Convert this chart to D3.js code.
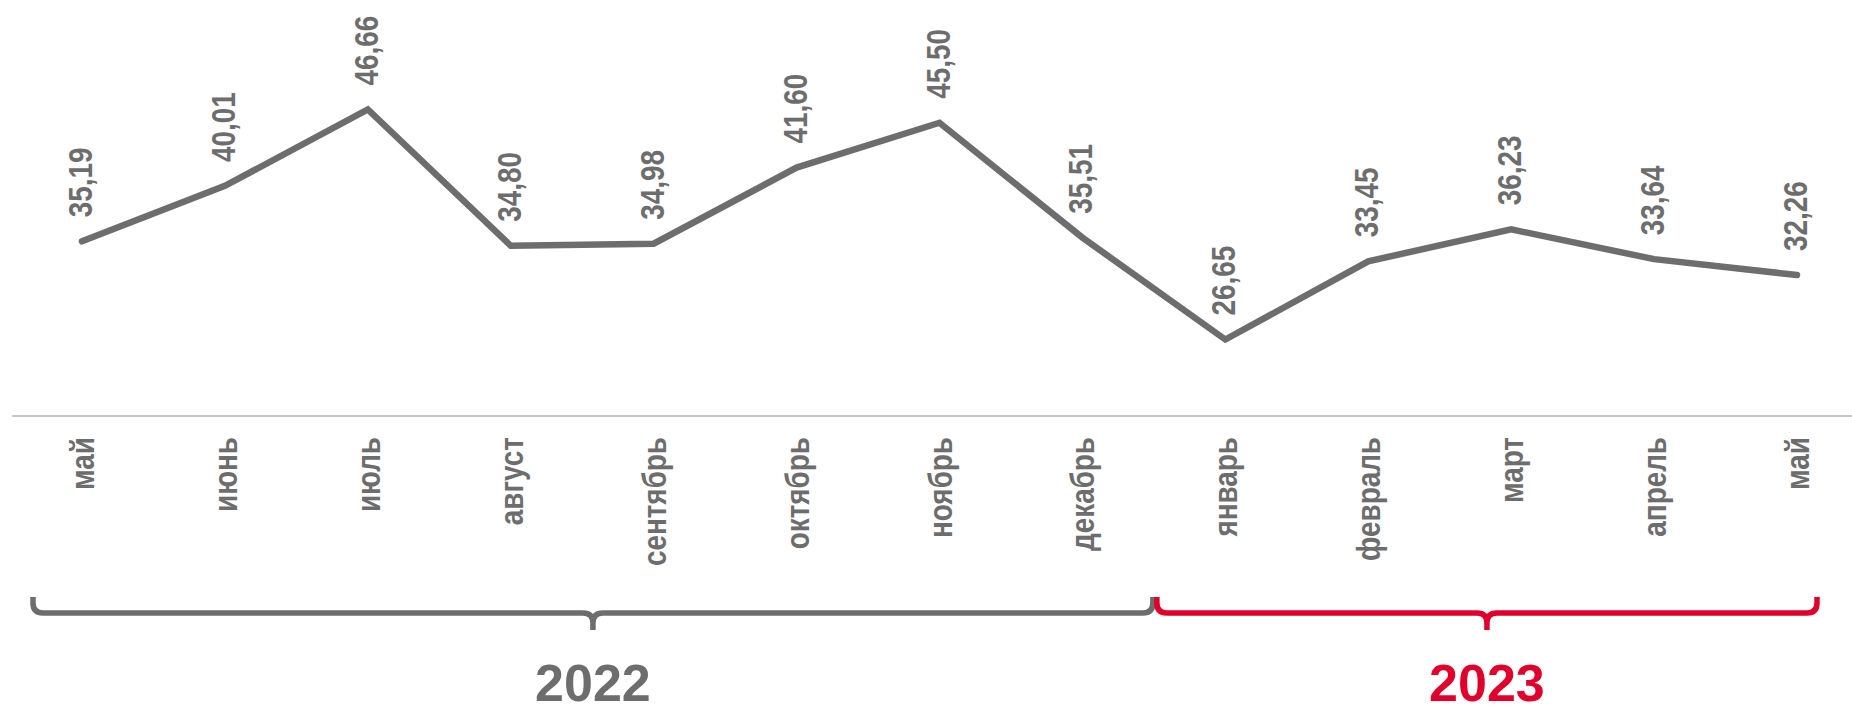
<!DOCTYPE html>
<html>
<head>
<meta charset="utf-8">
<script src="https://cdn.jsdelivr.net/npm/d3@7"></script>
<style>
  body { margin: 0; background: #fff; }
  text { font-family: 'Liberation Sans', Arial, sans-serif; font-weight: bold; }
</style>
</head>
<body>
<div id="chart"></div>
<script>
// data
const months = ['май', 'июнь', 'июль', 'август', 'сентябрь', 'октябрь', 'ноябрь',
  'декабрь', 'январь', 'февраль', 'март', 'апрель', 'май'];
const values = [35.19, 40.01, 46.66, 34.80, 34.98, 41.60, 45.50, 35.51,
  26.65, 33.45, 36.23, 33.64, 32.26];
const years = ['2022', '2023'];
const yearFirst = [0, 8];
const yearLast = [7, 12];
const yearColors = ['#6d6d6d', '#e1002b'];

const width = 1852,
  height = 706;
const grey = '#6d6d6d';

const svg = d3
  .select('#chart')
  .append('svg')
  .attr('width', width)
  .attr('height', height);

const x = d3.scalePoint().domain(d3.range(months.length)).range([82, 1797]);
const y = d3.scaleLinear().domain([20, 56]).range([416, 2]);

const fmt = (v) => d3.format('.2f')(v).replace('.', ',');

// baseline
svg
  .append('line')
  .attr('x1', 12)
  .attr('x2', width)
  .attr('y1', y(20))
  .attr('y2', y(20))
  .attr('stroke', '#b3b3b3')
  .attr('stroke-width', 1.5);

// the line
const line = d3
  .line()
  .x((d, i) => x(i))
  .y((d) => y(d));

svg
  .append('path')
  .datum(values)
  .attr('d', line)
  .attr('fill', 'none')
  .attr('stroke', grey)
  .attr('stroke-width', 6.5)
  .attr('stroke-linecap', 'round')
  .attr('stroke-linejoin', 'miter');

// value labels (narrow bold, rotated)
svg
  .append('g')
  .selectAll('text')
  .data(values)
  .join('text')
  .attr('transform', (d, i) => `translate(${x(i) + 10},${y(d) - 24}) rotate(-90) scale(0.82,1)`)
  .attr('font-size', 34)
  .attr('fill', grey)
  .text((d) => fmt(d));

// month labels under the axis
svg
  .append('g')
  .selectAll('text')
  .data(months)
  .join('text')
  .attr('transform', (d, i) => `translate(${x(i) + 12},437) rotate(-90) scale(0.82,1)`)
  .attr('text-anchor', 'end')
  .attr('font-size', 34)
  .attr('fill', grey)
  .text((d) => d);

// year braces
const braceY = 613,
  braceTop = 597,
  braceBot = 630,
  r = 10;
const bracePath = (x0, x1) => {
  const xm = (x0 + x1) / 2;
  return `M${x0},${braceTop} L${x0},${braceY - r} Q${x0},${braceY} ${x0 + r},${braceY}` +
    ` L${xm - r},${braceY} Q${xm},${braceY} ${xm},${braceY + r} L${xm},${braceBot}` +
    ` M${xm},${braceY + r} Q${xm},${braceY} ${xm + r},${braceY}` +
    ` L${x1 - r},${braceY} Q${x1},${braceY} ${x1},${braceY - r} L${x1},${braceTop}`;
};

const split = (x(7) + x(8)) / 2;
const spans = [
  [x(yearFirst[0]) - 49, split - 1],
  [split + 3, x(yearLast[1]) + 20],
];

const yg = svg
  .append('g')
  .selectAll('g')
  .data(years)
  .join('g');

yg.append('path')
  .attr('d', (d, i) => bracePath(spans[i][0], spans[i][1]))
  .attr('fill', 'none')
  .attr('stroke', (d, i) => yearColors[i])
  .attr('stroke-width', 5.5)
  .attr('stroke-linejoin', 'round');

yg.append('text')
  .attr('x', (d, i) => (spans[i][0] + spans[i][1]) / 2)
  .attr('y', 701)
  .attr('text-anchor', 'middle')
  .attr('font-size', 52)
  .attr('fill', (d, i) => yearColors[i])
  .text((d) => d);
</script>
</body>
</html>
